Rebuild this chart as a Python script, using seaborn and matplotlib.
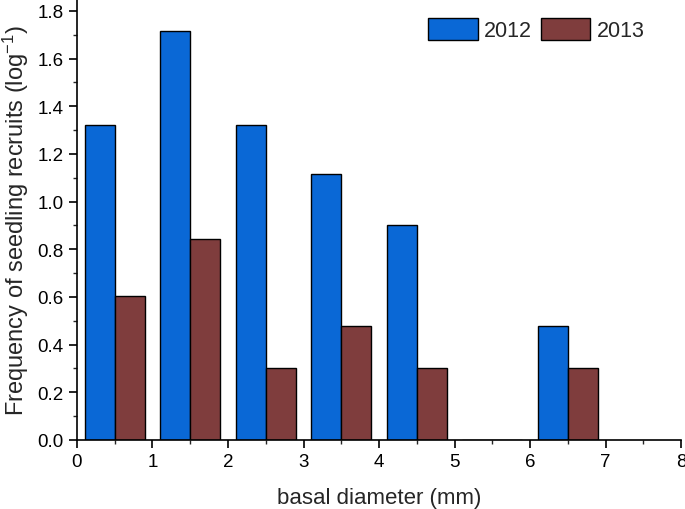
import matplotlib
matplotlib.use('Agg')
import matplotlib.pyplot as plt
import seaborn as sns
import pandas as pd
from matplotlib.ticker import MultipleLocator, AutoMinorLocator, FormatStrFormatter

# class midpoints of basal diameter (mm)
diameter = [0.5, 1.5, 2.5, 3.5, 4.5, 5.5, 6.5]
freq_2012 = [1.322, 1.716, 1.322, 1.114, 0.903, 0.0, 0.477]
freq_2013 = [0.602, 0.845, 0.301, 0.477, 0.301, 0.0, 0.301]
years = ['2012', '2013']
colors = ['#0a68d6', '#7f3d3d']

df = pd.DataFrame({
    'diameter': diameter * 2,
    'freq': freq_2012 + freq_2013,
    'year': [years[0]] * len(diameter) + [years[1]] * len(diameter),
})

sns.set_style('ticks')
plt.rcParams['font.family'] = ['Liberation Sans', 'DejaVu Sans']
plt.rcParams['mathtext.fontset'] = 'custom'
plt.rcParams['mathtext.rm'] = 'Liberation Sans'
plt.rcParams['mathtext.it'] = 'Liberation Sans'

fig = plt.figure(figsize=(6.85, 5.1), dpi=100)
ax = fig.add_axes([0.1124, 0.1353, 0.8818, 0.8647])

sns.barplot(data=df, x='diameter', y='freq', hue='year', native_scale=True,
            palette=colors, width=0.8, edgecolor='black', linewidth=1.0,
            saturation=1, errorbar=None, ax=ax)

ax.set_xlim(0, 8)
ax.set_ylim(0, 1.85)
ax.xaxis.set_major_locator(MultipleLocator(1))
ax.yaxis.set_major_locator(MultipleLocator(0.2))
ax.xaxis.set_minor_locator(AutoMinorLocator(2))
ax.yaxis.set_minor_locator(AutoMinorLocator(2))
ax.yaxis.set_major_formatter(FormatStrFormatter('%.1f'))
ax.tick_params(which='major', direction='out', length=6, width=1.2, labelsize=13.5, colors='black')
ax.tick_params(which='minor', direction='out', length=3, width=1.0)
for s in ['top', 'right']:
    ax.spines[s].set_visible(False)
for s in ['left', 'bottom']:
    ax.spines[s].set_linewidth(1.2)
    ax.spines[s].set_color('black')

ax.set_xlabel('basal diameter (mm)', fontsize=16, labelpad=12)
ax.set_ylabel('Frequency of seedling recruits (log$^{-1}$)', fontsize=17, labelpad=5)

ax.legend(loc='upper right', bbox_to_anchor=(0.972, 1.0), ncol=2, frameon=False,
          fontsize=15.5, handlelength=2.3, handleheight=1.15, columnspacing=0.4,
          handletextpad=0.3, title=None)

fig.savefig('out.png', dpi=100)
